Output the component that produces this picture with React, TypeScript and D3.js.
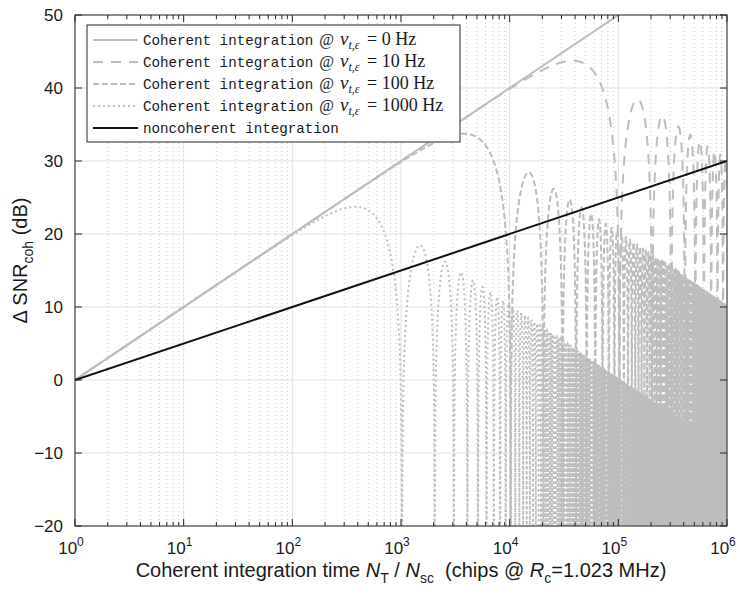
import React from 'react';
import * as d3 from 'd3';

// Doppler offsets of the coherent curves (Hz) and the chip rate (chips/s)
const dopplerOffsets = [0, 10, 100, 1000];
const chipRate = 1.023e6;
const legendValues = ['0 Hz', '10 Hz', '100 Hz', '1000 Hz'];
const dashStyles = ['none', '10,8', '6,3', '2,3'];
const xTickExp = [0, 1, 2, 3, 4, 5, 6];
const yTicks = [-20, -10, 0, 10, 20, 30, 40, 50];

const W = 740;
const H = 594;
const margin = { top: 15, right: 13, bottom: 68, left: 75 };
const GRAY = '#bdbdbd';

// gain of coherent integration over n chips with a residual Doppler nu
function coherentGain(n: number, nu: number) {
  const a = (Math.PI * nu * n) / chipRate;
  const s = a === 0 ? 1 : Math.sin(a) / a;
  return 10 * Math.log10(n) + 20 * Math.log10(Math.abs(s));
}

function sampleN(nu: number) {
  const ns: number[] = [];
  for (let e = 0; e <= 6.0001; e += 1 / 400) ns.push(Math.pow(10, e));
  if (nu > 0) {
    const period = chipRate / nu;
    for (let k = 0; k * period <= 1e6; k++) {
      for (let j = 0; j < 60; j++) {
        const n = k * period + (j * period) / 60;
        if (n >= 1 && n <= 1e6) ns.push(n);
      }
    }
  }
  return ns.sort((a, b) => a - b);
}

export default function App() {
  const x = d3.scaleLog().domain([1, 1e6]).range([margin.left, W - margin.right]);
  const y = d3.scaleLinear().domain([-20, 50]).range([H - margin.bottom, margin.top]);
  const [x0, x1] = x.range();
  const [y0, y1] = y.range();

  const line = d3
    .line<[number, number]>()
    .x(d => x(d[0]))
    .y(d => y(Math.max(-24, Math.min(54, d[1]))));

  const curves = dopplerOffsets.map(nu => {
    const pts: [number, number][] = sampleN(nu).map(n => {
      const g = coherentGain(n, nu);
      return [n, isFinite(g) ? g : -24];
    });
    return line(pts) as string;
  });

  const nonCoh = line(
    [1, 1e6].map(n => [n, 5 * Math.log10(n)] as [number, number])
  ) as string;

  const minorTicks: number[] = [];
  for (let e = 0; e < 6; e++)
    for (let m = 2; m <= 9; m++) minorTicks.push(m * Math.pow(10, e));

  const legendRows = [40, 62, 84, 106, 128];
  const serif = 'Liberation Serif, serif';

  return (
    <svg width={W} height={H} style={{ display: 'block', position: 'absolute', left: 0, top: 0 }}>
      <defs>
        <clipPath id="plot">
          <rect x={x0} y={y1} width={x1 - x0} height={y0 - y1} />
        </clipPath>
      </defs>
      <rect x={0} y={0} width={W} height={H} fill="#fff" />
      {/* grid */}
      <g>
        {minorTicks.map(t => (
          <line key={'mg' + t} x1={x(t)} x2={x(t)} y1={y1} y2={y0}
            stroke="#bdbdbd" strokeWidth={0.8} strokeDasharray="1,3" />
        ))}
        {xTickExp.map(e => (
          <line key={'xg' + e} x1={x(10 ** e)} x2={x(10 ** e)} y1={y1} y2={y0}
            stroke="#e1e1e1" strokeWidth={1} />
        ))}
        {yTicks.map(t => (
          <line key={'yg' + t} x1={x0} x2={x1} y1={y(t)} y2={y(t)} stroke="#e1e1e1" strokeWidth={1} />
        ))}
      </g>
      {/* data */}
      <g clipPath="url(#plot)" fill="none">
        {curves.map((d, i) => (
          <path key={i} d={d} stroke={GRAY} strokeWidth={2}
            strokeDasharray={dashStyles[i] === 'none' ? undefined : dashStyles[i]} />
        ))}
        <path d={nonCoh} stroke="#111" strokeWidth={2} />
      </g>
      {/* axes box */}
      <rect x={x0} y={y1} width={x1 - x0} height={y0 - y1} fill="none" stroke="#262626" strokeWidth={1} />
      <g stroke="#262626" strokeWidth={1}>
        {xTickExp.map(e => (
          <g key={'xt' + e}>
            <line x1={x(10 ** e)} x2={x(10 ** e)} y1={y0} y2={y0 - 7} />
            <line x1={x(10 ** e)} x2={x(10 ** e)} y1={y1} y2={y1 + 7} />
          </g>
        ))}
        {minorTicks.map(t => (
          <g key={'xm' + t}>
            <line x1={x(t)} x2={x(t)} y1={y0} y2={y0 - 4} />
            <line x1={x(t)} x2={x(t)} y1={y1} y2={y1 + 4} />
          </g>
        ))}
        {yTicks.map(t => (
          <g key={'yt' + t}>
            <line x1={x0} x2={x0 + 7} y1={y(t)} y2={y(t)} />
            <line x1={x1} x2={x1 - 7} y1={y(t)} y2={y(t)} />
          </g>
        ))}
      </g>
      {/* tick labels */}
      <g fontFamily="Liberation Sans, Arial, sans-serif" fill="#1a1a1a">
        {yTicks.map(t => (
          <text key={'yl' + t} x={x0 - 12} y={y(t)} dy="0.35em" fontSize={17} textAnchor="end">
            {t < 0 ? '\u2212' + Math.abs(t) : t}
          </text>
        ))}
        {xTickExp.map(e => (
          <text key={'xl' + e} x={x(10 ** e) - 4} y={y0 + 28} fontSize={17} textAnchor="middle">
            10<tspan dy={-8} fontSize={12}>{e}</tspan>
          </text>
        ))}
        <text x={(x0 + x1) / 2} y={H - 17} fontSize={20} textAnchor="middle" style={{ whiteSpace: 'pre' }}>
          {'Coherent integration time '}
          <tspan fontStyle="italic">N</tspan>
          <tspan dy={6} fontSize={14}>T</tspan>
          <tspan dy={-6}>{' / '}</tspan>
          <tspan fontStyle="italic">N</tspan>
          <tspan dy={6} fontSize={14}>sc</tspan>
          <tspan dy={-6}>{'  (chips @ '}</tspan>
          <tspan fontStyle="italic">R</tspan>
          <tspan dy={6} fontSize={14}>c</tspan>
          <tspan dy={-6}>=1.023 MHz)</tspan>
        </text>
        <text transform={`translate(27,${(y0 + y1) / 2 - 10}) rotate(-90)`} fontSize={20} textAnchor="middle">
          {'\u0394 SNR'}
          <tspan dy={6} fontSize={14}>coh</tspan>
          <tspan dy={-6}> (dB)</tspan>
        </text>
      </g>
      {/* legend */}
      <g>
        <rect x={87} y={25} width={373} height={117} fill="#fff" stroke="#262626" strokeWidth={1} />
        {legendRows.map((ly, i) => (
          <line key={'ll' + i} x1={93} x2={138} y1={ly} y2={ly}
            stroke={i < 4 ? GRAY : '#111'} strokeWidth={2}
            strokeDasharray={i < 4 && dashStyles[i] !== 'none' ? dashStyles[i] : undefined} />
        ))}
        {legendValues.map((v, i) => (
          <text key={'lt' + i} x={143} y={legendRows[i]} dy="0.33em" fontSize={14.2} fill="#1a1a1a"
            style={{ whiteSpace: 'pre' }}>
            <tspan fontFamily="Liberation Mono, monospace">Coherent integration</tspan>
            <tspan fontFamily={serif} fontSize={16} dx={6}>@</tspan>
            <tspan fontFamily={serif} fontStyle="italic" fontSize={19} dx={6}>{'\u03BD'}</tspan>
            <tspan fontFamily={serif} fontStyle="italic" fontSize={12} dy={4}>{'t,\u03B5'}</tspan>
            <tspan fontFamily={serif} fontSize={18} dy={-4} dx={3}>{' = ' + v}</tspan>
          </text>
        ))}
        <text x={143} y={legendRows[4]} dy="0.33em" fontSize={14.2} fill="#1a1a1a" fontFamily="Liberation Mono, monospace">
          noncoherent integration
        </text>
      </g>
    </svg>
  );
}
